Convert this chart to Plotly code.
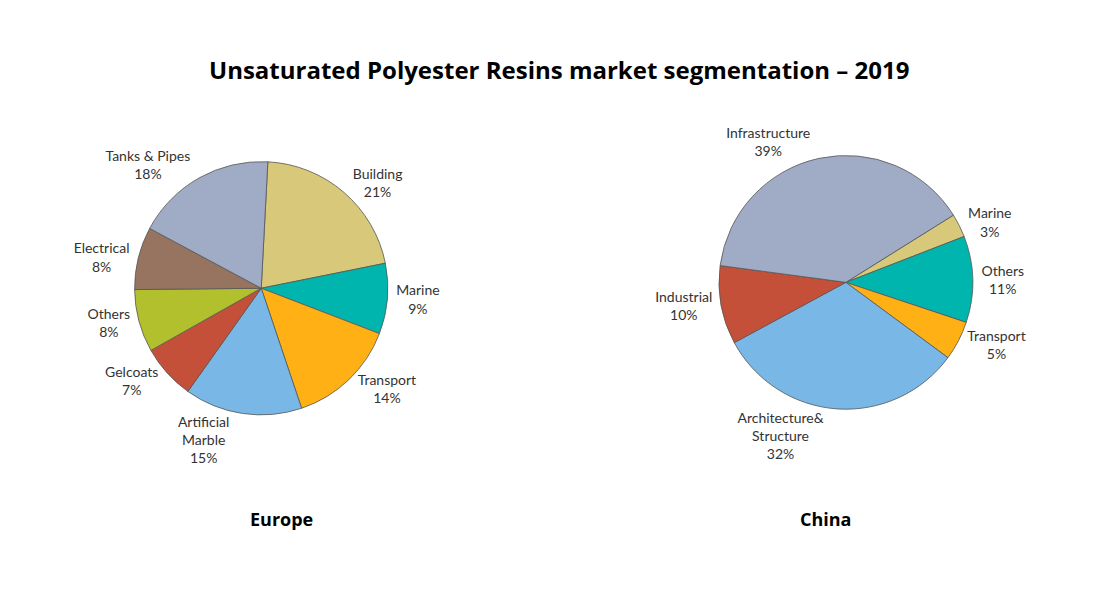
import plotly.graph_objects as go

eu_labels = ["Building", "Marine", "Transport", "Artificial<br>Marble", "Gelcoats", "Others", "Electrical", "Tanks & Pipes"]
eu_values = [21, 9, 14, 15, 7, 8, 8, 18]
eu_colors = ["#D8C87A", "#00B5AD", "#FFB014", "#79B8E6", "#C5503A", "#B2C02E", "#977460", "#A0ABC5"]

cn_labels = ["Marine", "Others", "Transport", "Architecture&<br>Structure", "Industrial", "Infrastructure"]
cn_values = [3, 11, 5, 32, 10, 39]
cn_colors = ["#D8C87A", "#00B5AD", "#FFB014", "#79B8E6", "#C5503A", "#A0ABC5"]

fig = go.Figure()
common = dict(sort=False, direction="clockwise", textposition="outside",
              texttemplate="%{label}<br>%{value}%", hoverinfo="label+value",
              marker_line=dict(color="#555", width=0.8),
              textfont=dict(family="Lato", size=14, color="#333"), showlegend=False)
fig.add_trace(go.Pie(labels=eu_labels, values=eu_values, marker_colors=eu_colors,
                     rotation=3, domain=dict(x=[0.115, 0.345], y=[0.31, 0.74]), **common))
fig.add_trace(go.Pie(labels=cn_labels, values=cn_values, marker_colors=cn_colors,
                     rotation=58, domain=dict(x=[0.645, 0.877], y=[0.32, 0.75]), **common))

fig.update_layout(
    width=1101, height=590, paper_bgcolor="white", plot_bgcolor="white",
    margin=dict(l=0, r=0, t=0, b=0),
    annotations=[
        dict(text="<b>Unsaturated Polyester Resins market segmentation – 2019</b>", x=0.5, y=0.895,
             xref="paper", yref="paper", showarrow=False, yanchor="middle",
             font=dict(family="Open Sans", size=24, color="black")),
        dict(text="<b>Europe</b>", x=0.218, y=0.11, xref="paper", yref="paper", showarrow=False,
             font=dict(family="Open Sans", size=18, color="black")),
        dict(text="<b>China</b>", x=0.768, y=0.11, xref="paper", yref="paper", showarrow=False,
             font=dict(family="Open Sans", size=18, color="black")),
    ],
)
fig.write_html("out.html")
